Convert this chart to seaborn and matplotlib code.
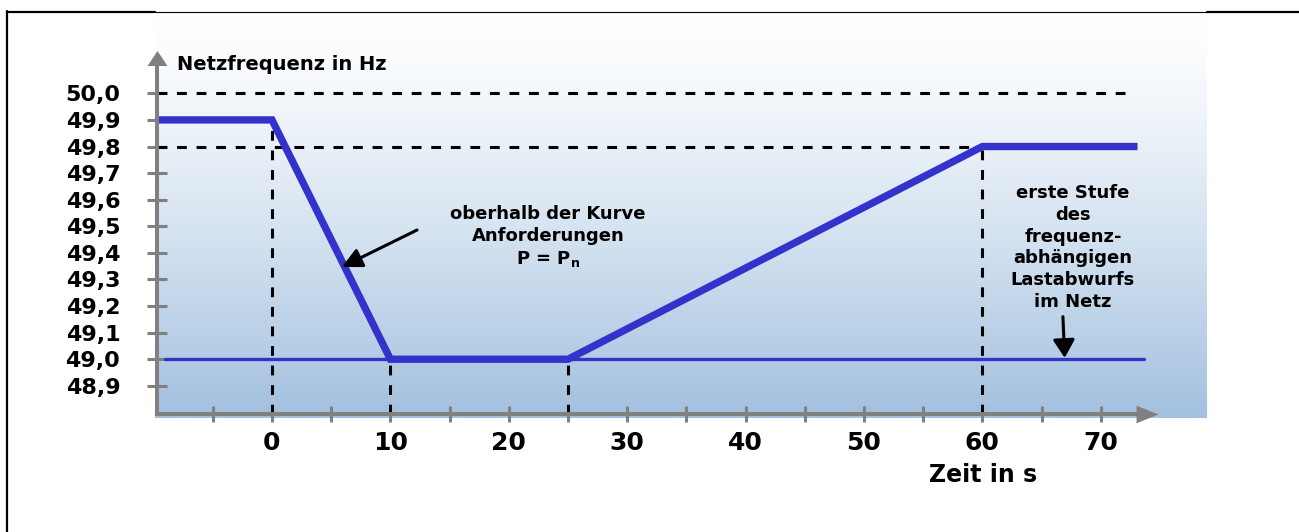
import numpy as np
import pandas as pd
import matplotlib
matplotlib.use("Agg")
import matplotlib.pyplot as plt
import matplotlib.transforms as mtransforms
from matplotlib.lines import Line2D
import seaborn as sns

# frequency curve (time in s, frequency in Hz)
zeit_s = [-9.7, 0, 10, 25, 60, 73.1]
frequenz_hz = [49.9, 49.9, 49.0, 49.0, 49.8, 49.8]

# dashed helper lines: vertical drops and horizontal levels
drop_zeit = [0, 10, 25, 60]
drop_freq = [49.9, 49.0, 49.0, 49.8]
nenn_freq = 50.0
nenn_ende = 72.7
stufe_freq = 49.8
grenz_freq = 49.0
grenz_von, grenz_bis = -9.04, 73.65

y_ticks = [48.9, 49.0, 49.1, 49.2, 49.3, 49.4, 49.5, 49.6, 49.7, 49.8, 49.9, 50.0]
y_labels = ["48,9", "49,0", "49,1", "49,2", "49,3", "49,4", "49,5", "49,6",
            "49,7", "49,8", "49,9", "50,0"]
x_ticks = [0, 10, 20, 30, 40, 50, 60, 70]
x_minor = [-5, 5, 15, 25, 35, 45, 55, 65]

sns.set_style("white")
plt.rcParams["font.family"] = ["DejaVu Sans"]
plt.rcParams["font.weight"] = "bold"
plt.rcParams["mathtext.fontset"] = "dejavusans"
plt.rcParams["text.color"] = "black"

W, H = 1299, 532
blue = "#3333cc"
gray = "#808080"


def box(x0, y0, x1, y1):
    return [x0 / W, 1 - y1 / H, (x1 - x0) / W, (y1 - y0) / H]


fig = plt.figure(figsize=(W / 100, H / 100), dpi=100)

# gradient background
bg = fig.add_axes(box(155, 12, 1207, 418), zorder=0)
g = np.linspace(0, 1, 256) ** 1.3
top = np.array([1.0, 1.0, 1.0])
bottom = np.array([0xa2, 0xc0, 0xdf]) / 255
img = top + (bottom - top) * g[:, None]
bg.imshow(img[:, None, :], aspect="auto", interpolation="bilinear")
bg.axis("off")

# frame lines
fig.add_artist(Line2D([7 / W, 7 / W], [1 - 11 / H, 0], lw=1.6, color="black"))
fig.add_artist(Line2D([7 / W, 155 / W], [1 - 12.2 / H] * 2, lw=1.6, color="black"))
fig.add_artist(Line2D([155 / W, 1207 / W], [1 - 11.5 / H] * 2, lw=0.8, color="black"))
fig.add_artist(Line2D([1207 / W, 1], [1 - 12.2 / H] * 2, lw=1.6, color="black"))

ax = fig.add_axes(box(157, 50, 1158, 414), zorder=1)
ax.patch.set_alpha(0)
ax.set_xlim(-115 / 11.84, 886 / 11.84)
ax.set_ylim(48.794, 50.163)
for s in ax.spines.values():
    s.set_visible(False)
xmin, _ = ax.get_xlim()
ymin, _ = ax.get_ylim()

# dashed lines
dash = dict(color="black", lw=2.2, dashes=(3.2, 3.2), zorder=2)
ax.plot([xmin, nenn_ende], [nenn_freq, nenn_freq], **dash)
ax.plot([xmin, 60], [stufe_freq, stufe_freq], **dash)
for t, f in zip(drop_zeit, drop_freq):
    ax.plot([t, t], [ymin, f], **dash)

# 49 Hz limit and curve
ax.plot([grenz_von, grenz_bis], [grenz_freq, grenz_freq], color=blue, lw=2.4, zorder=3)
df = pd.DataFrame({"t": zeit_s, "f": frequenz_hz})
sns.lineplot(data=df, x="t", y="f", ax=ax, color=blue, lw=5.3, estimator=None,
             sort=False, zorder=4, solid_joinstyle="miter", solid_capstyle="butt")
ax.set_xlabel("")
ax.set_ylabel("")

# axis arrows
ax.plot([0, 0], [0, 0.98], transform=ax.transAxes, color=gray, lw=2.9,
        clip_on=False, solid_capstyle="projecting", zorder=5)
ax.plot([0, 0.98], [0, 0], transform=ax.transAxes, color=gray, lw=2.9,
        clip_on=False, solid_capstyle="projecting", zorder=5)
up = mtransforms.offset_copy(ax.transAxes, fig=fig, x=0, y=-7.5, units="dots")
ax.plot([0], [1], transform=up, marker=[(0, 0.75), (-1, -0.75), (1, -0.75)],
        ms=14.4, color=gray, mew=0, clip_on=False, zorder=5)
right = mtransforms.offset_copy(ax.transAxes, fig=fig, x=-11, y=0, units="dots")
ax.plot([1], [0], transform=right, marker=[(1, 0), (-1, -0.8), (-1, 0.8)],
        ms=15.8, color=gray, mew=0, clip_on=False, zorder=5)

ax.set_xticks(x_ticks)
ax.set_xticks(x_minor, minor=True)
ax.set_yticks(y_ticks)
ax.set_yticklabels(y_labels)
ax.tick_params(axis="x", which="both", bottom=True, direction="inout", length=11,
               width=2.2, color=gray, pad=7, labelsize=18, labelcolor="black")
ax.tick_params(axis="y", which="both", left=True, direction="inout", length=15,
               width=2.2, color=gray, pad=19, labelsize=16, labelcolor="black")

# labels and annotations
ax.text(-8.02, 50.0876, "Netzfrequenz in Hz", fontsize=14, ha="left", va="baseline")
ax.text(55.5, 48.54, "Zeit in s", fontsize=17, ha="left", va="baseline")
ax.text(23.3, 49.46, "oberhalb der Kurve\nAnforderungen\nP = P$_\\mathbf{n}$",
        ha="center", va="center", fontsize=13, linespacing=1.26)
ax.text(67.65, 49.42, "erste Stufe\ndes\nfrequenz-\nabhängigen\nLastabwurfs\nim Netz",
        ha="center", va="center", fontsize=13, linespacing=1.27)
ax.annotate("", xy=(5.91, 49.347), xytext=(12.25, 49.486),
            arrowprops=dict(arrowstyle="-|>", color="black", lw=2.2,
                            mutation_scale=30, shrinkA=0, shrinkB=0), zorder=6)
ax.annotate("", xy=(66.95, 49.005), xytext=(66.8, 49.16),
            arrowprops=dict(arrowstyle="-|>,head_length=0.5,head_width=0.3",
                            color="black", lw=2.2, mutation_scale=22,
                            shrinkA=0, shrinkB=0), zorder=6)

fig.savefig("out.png", dpi=100)
